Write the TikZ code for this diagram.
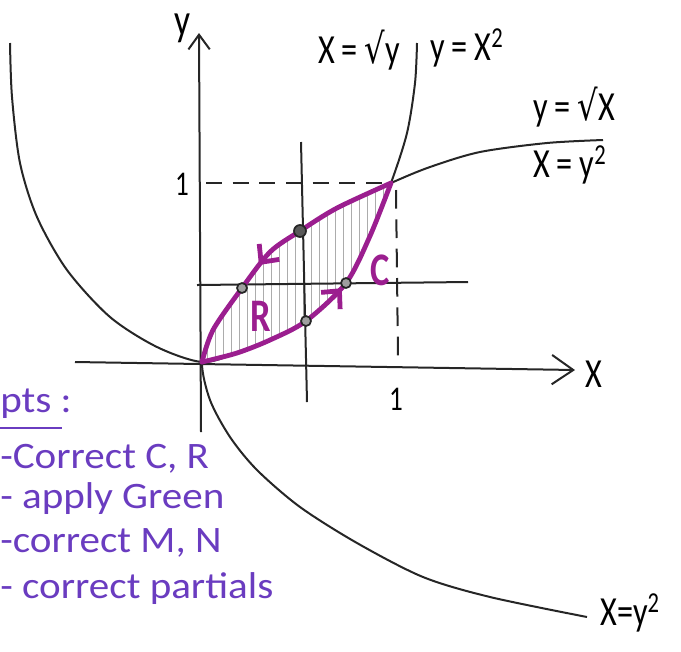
\documentclass[tikz,border=0pt]{standalone}
\usepackage{fontspec}
\setmainfont{Carlito}[FakeStretch=0.78]
\newfontfamily\notefont{Carlito}[FakeStretch=1.1]
\newfontfamily\radfont{DejaVu Sans}[FakeStretch=0.78]
\usetikzlibrary{arrows.meta,decorations.markings}

\definecolor{loopPurple}{HTML}{9B1E8F}
\definecolor{notePurple}{HTML}{6A3CC0}

\begin{document}
\begin{tikzpicture}[x=0.75pt,y=-0.75pt,
    sketch/.style={line width=1.5pt, black!85},
    looparc/.style={line width=3.6pt, loopPurple, line cap=round},
    flowtip/.style={postaction={decorate, decoration={markings,
        mark=at position #1 with {\arrow{Straight Barb[length=10pt,width=19pt]}}}}},
    meshdot/.style={fill=gray!75, draw=black!85, line width=1.3pt},
    curvelabel/.style={font=\fontsize{31}{36}\selectfont, anchor=base west, inner sep=0pt},
    notetext/.style={font=\notefont\fontsize{28}{32}\selectfont, text=notePurple, anchor=base west, inner sep=0pt}]

% Canvas in pixel units (y runs downwards), 681 x 651
\useasboundingbox (0,0) rectangle (681,651);

% Key points of the sketch
\coordinate (origin)     at (202,362);
\coordinate (corner)     at (391,183);
\coordinate (topCross)   at (300,231);
\coordinate (leftCross)  at (242,288);
\coordinate (lowCross)   at (306,321);
\coordinate (rightCross) at (346,283);

% --- Hatching of the region R ---
\begin{scope}
    \clip plot[smooth] coordinates {(391,183) (337,208) (300,231) (270,252) (242,288) (213,330) (202,362)}
        -- plot[smooth] coordinates {(202,362) (237,353) (270,340) (306,321) (346,283) (370,236) (391,183)} -- cycle;
    \foreach \hx in {207,215,...,391}
        \draw[gray!65, line width=0.7pt] (\hx,180) -- (\hx,366);
\end{scope}

% --- Axes ---
\draw[sketch, -{Straight Barb[length=16pt,width=22pt]}] (75,362) -- (575,370);
\draw[sketch, -{Straight Barb[length=11pt,width=16pt]}] (201,432) -- (199,33);

% --- Lines x = const and y = const ---
\draw[sketch] (301,142) -- (307,402);
\draw[sketch] (197,285) -- (468,282);

% dashed guides to (1,1)
\draw[sketch, dash pattern=on 12pt off 8pt] (206,183) -- (corner);
\draw[sketch, dash pattern=on 14pt off 8pt] (396,190) -- (398,358);

% --- Parabolas ---
% y = x^2, both branches
\draw[sketch] plot[smooth] coordinates {(10,43) (12,97) (20,163) (37,217) (67,270) (110,317) (157,347)
    (202,362) (237,353) (270,340) (306,321) (346,283) (370,236) (391,183) (407,133) (415,83) (417,43)};
% x = y^2, both branches
\draw[sketch] plot[smooth] coordinates {(603,140) (547,143) (480,152) (430,167) (391,183) (337,208)
    (300,231) (270,252) (242,288) (213,330) (202,362) (210,400) (230,437) (257,470) (300,507)
    (357,543) (423,577) (490,597) (587,617)};

% --- The loop C, counterclockwise ---
\draw[looparc, flowtip=0.58] plot[smooth] coordinates {(202,362) (237,353) (270,340) (306,321) (346,283) (370,236) (391,183)};
\draw[looparc, flowtip=0.58] plot[smooth] coordinates {(391,183) (337,208) (300,231) (270,252) (242,288) (213,330) (202,362)};

% crossing points
\foreach \p in {leftCross,lowCross,rightCross}
    \filldraw[meshdot] (\p) circle (5);
\filldraw[meshdot, fill=black!65] (topCross) circle (6);

% --- Labels ---
\node[font=\bfseries\fontsize{35}{40}\selectfont, text=loopPurple] (regionR) at (261,316) {R};
\node[font=\bfseries\fontsize{35}{40}\selectfont, text=loopPurple] (loopC) at (380,270) {C};

\node[curvelabel] (sqrtyLabel) at (318,63) {X\,=\,{\radfont √}y};
\node[curvelabel] (squareLabel) at (430,60) {y\,=\,X\textsuperscript{2}};
\node[curvelabel] (sqrtxLabel) at (533,120) {y\,=\,{\radfont √}X};
\node[curvelabel] (ysqLabel) at (533,177) {X\,=\,y\textsuperscript{2}};
\node[curvelabel] (ysqLowLabel) at (600,625) {X=y\textsuperscript{2}};

\node[curvelabel] (xLabel) at (585,387) {X};
\node[curvelabel, font=\fontsize{34}{40}\selectfont] (yLabel) at (174,35) {y};
\node[font=\fontsize{26}{30}\selectfont] (yOne) at (182,184) {1};
\node[font=\fontsize{26}{30}\selectfont] (xOne) at (396,399) {1};

% --- Grading notes ---
\node[notetext] (ptsNote) at (0,412) {pts :};
\draw[notePurple, line width=1.6pt] (0,428) -- (62,428);
\node[notetext] (noteOne) at (0,468) {-Correct C, R};
\node[notetext] (noteTwo) at (0,508) {- apply Green};
\node[notetext] (noteThree) at (0,552) {-correct M, N};
\node[notetext] (noteFour) at (0,598) {- correct partials};

\end{tikzpicture}
\end{document}
